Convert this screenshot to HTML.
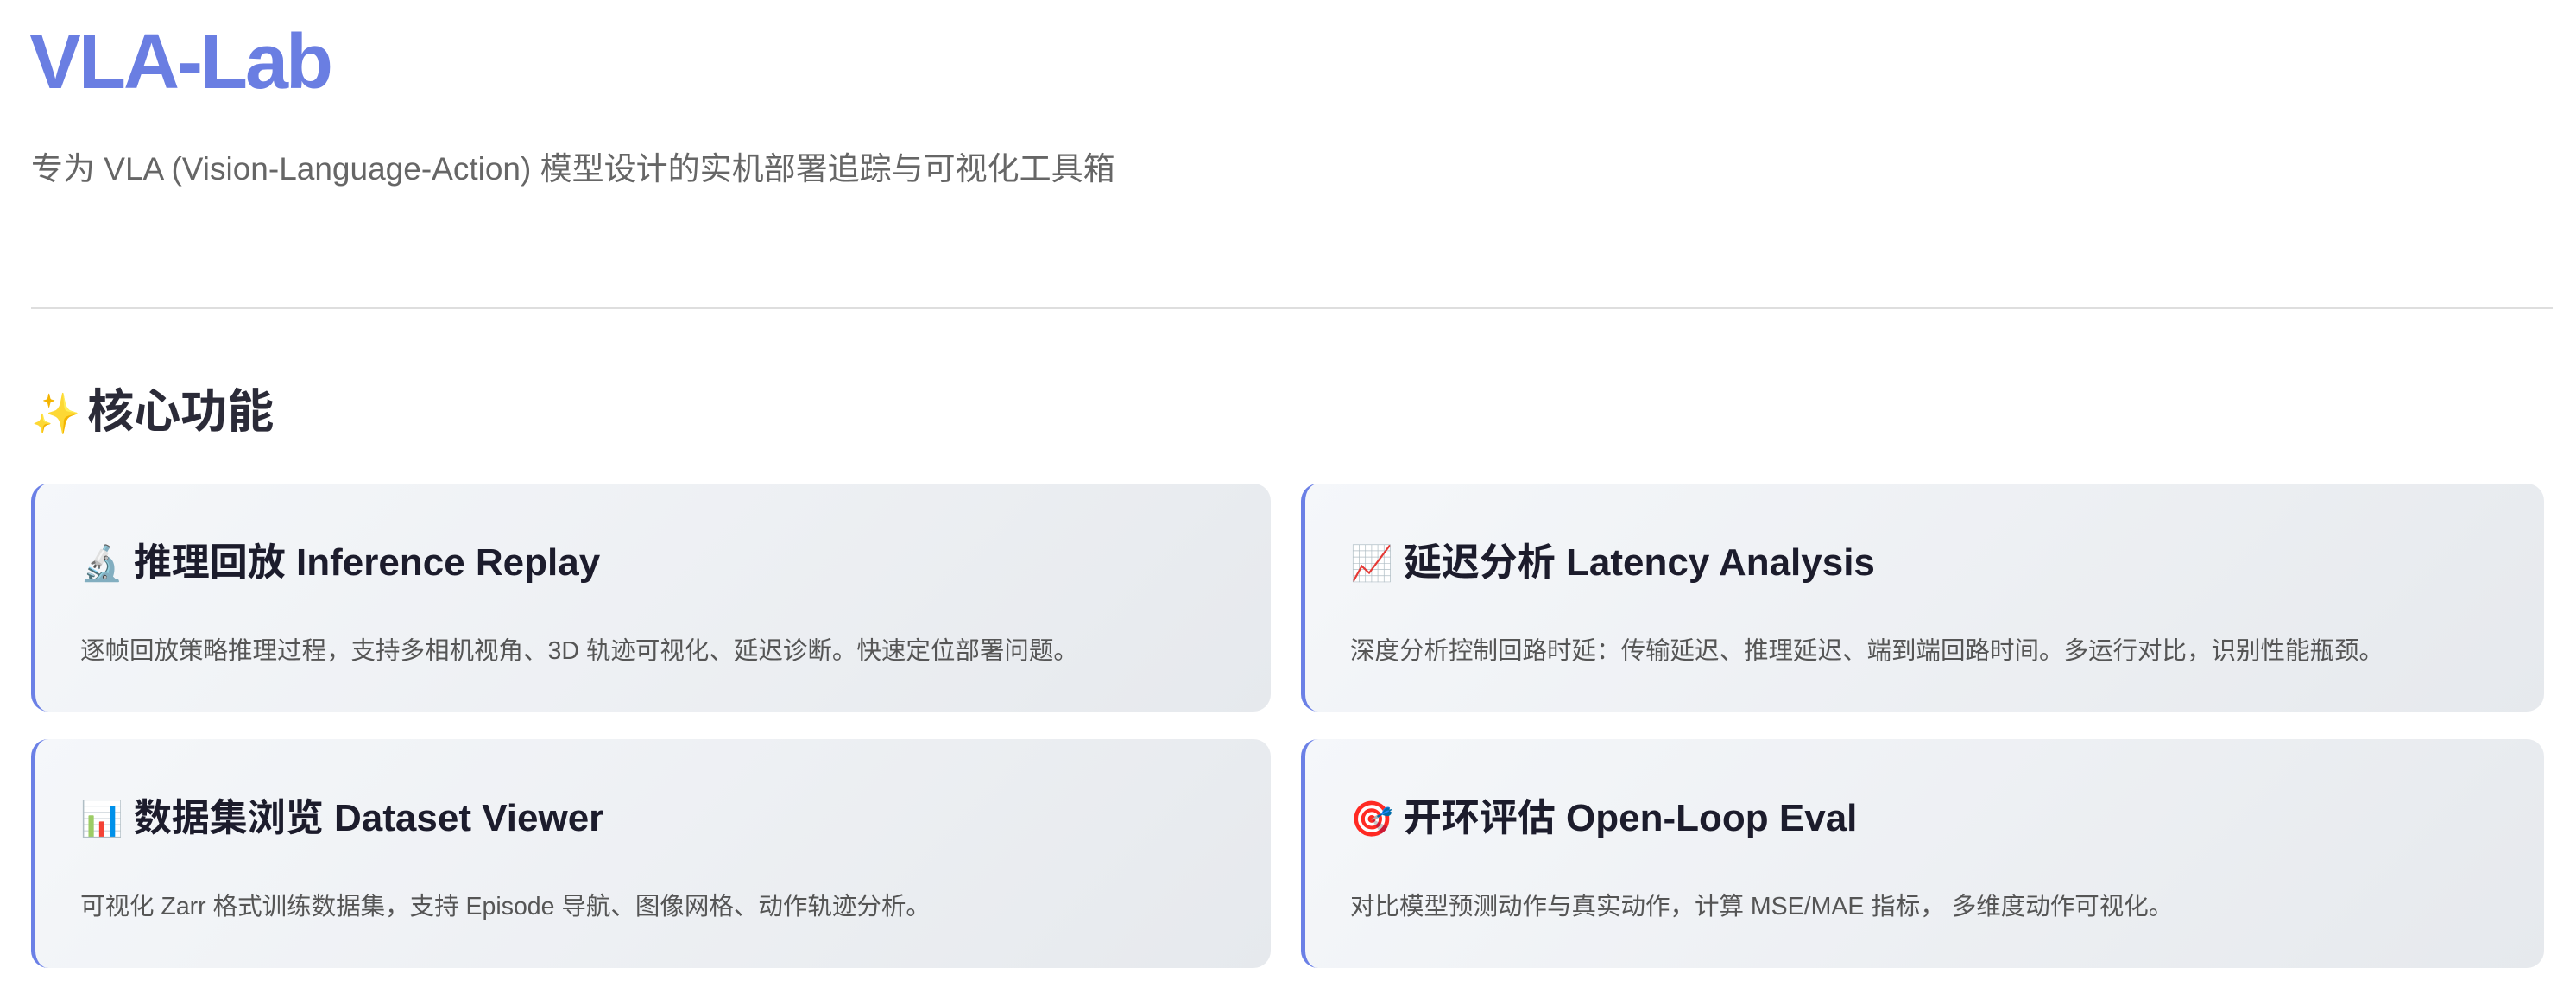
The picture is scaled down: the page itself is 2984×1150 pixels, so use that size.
<!DOCTYPE html>
<html><head><meta charset="utf-8"><style>
*{margin:0;padding:0;box-sizing:border-box}
body{width:2984px;height:1150px;background:#fff;position:relative;overflow:hidden;font-family:"Liberation Sans","Noto Sans CJK SC",sans-serif}
.a{position:absolute;white-space:nowrap}
#t{left:34px;top:22px;font-size:90px;font-weight:bold;color:#6a7ee2;letter-spacing:-3px;line-height:100px}
#s{left:36px;top:174px;font-size:37px;color:#666;line-height:44px}
#hr{position:absolute;left:36px;top:355px;width:2921px;height:3px;background:#dedede}
#h{left:36px;top:446px;font-size:54px;font-weight:bold;color:#2b2b38;line-height:62px}
#h span{font-size:46px;margin-right:8px}
.c{position:absolute;border-radius:20px;border-left:5px solid #6b80e6;background:linear-gradient(135deg,#f5f7fa,#e6e9ed)}
.ct{position:absolute;left:52px;top:66px;font-size:44px;font-weight:bold;color:#1c1c2c;white-space:nowrap;line-height:52px}
.ct span{font-size:40px;margin-right:12px}
.cd{position:absolute;left:52px;top:176px;font-size:28.5px;color:#555;white-space:nowrap;line-height:36px}
</style></head><body>
<div class="a" id="t">VLA-Lab</div>
<div class="a" id="s">专为 VLA (Vision-Language-Action) 模型设计的实机部署追踪与可视化工具箱</div>
<div id="hr"></div>
<div class="a" id="h"><span>✨</span>核心功能</div>
<div class="c" style="left:36px;top:560px;width:1436px;height:264px"><div class="ct"><span>🔬</span>推理回放 Inference Replay</div><div class="cd">逐帧回放策略推理过程，支持多相机视角、3D 轨迹可视化、延迟诊断。快速定位部署问题。</div></div>
<div class="c" style="left:1507px;top:560px;width:1440px;height:264px"><div class="ct"><span>📈</span>延迟分析 Latency Analysis</div><div class="cd">深度分析控制回路时延：传输延迟、推理延迟、端到端回路时间。多运行对比，识别性能瓶颈。</div></div>
<div class="c" style="left:36px;top:856px;width:1436px;height:265px"><div class="ct"><span>📊</span>数据集浏览 Dataset Viewer</div><div class="cd">可视化 Zarr 格式训练数据集，支持 Episode 导航、图像网格、动作轨迹分析。</div></div>
<div class="c" style="left:1507px;top:856px;width:1440px;height:265px"><div class="ct"><span>🎯</span>开环评估 Open-Loop Eval</div><div class="cd">对比模型预测动作与真实动作，计算 MSE/MAE 指标， 多维度动作可视化。</div></div>
</body></html>
